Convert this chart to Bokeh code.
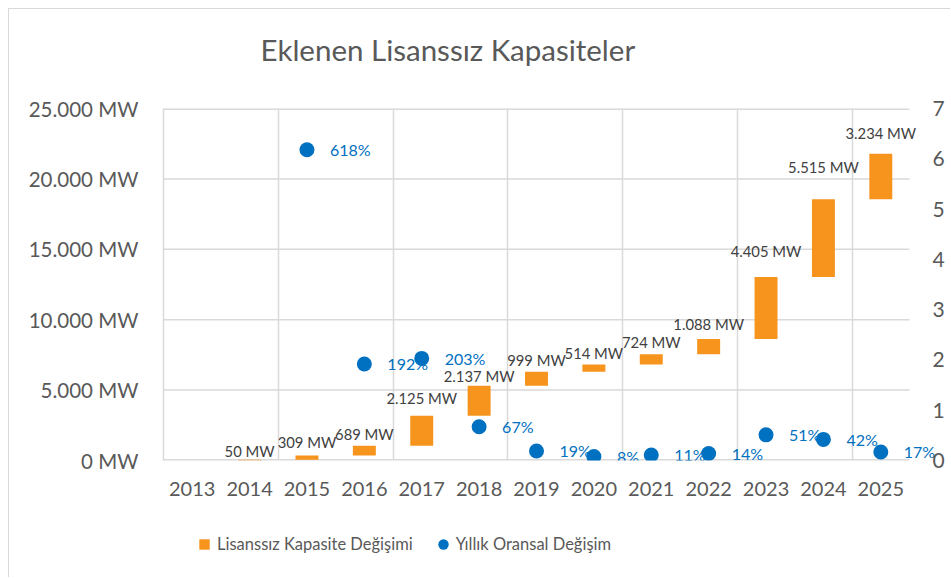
import numpy as np
from bokeh.plotting import figure
from bokeh.layouts import column
from bokeh.models import (ColumnDataSource, Range1d, LinearAxis, FixedTicker,
                          Legend, LegendItem)
from bokeh.core.properties import value
from bokeh.embed import file_html
from bokeh.resources import INLINE

# ---- data ----
years = ["2013", "2014", "2015", "2016", "2017", "2018", "2019",
         "2020", "2021", "2022", "2023", "2024", "2025"]
added_mw = [0, 50, 309, 689, 2125, 2137, 999, 514, 724, 1088, 4405, 5515, 3234]
yearly_pct = [None, None, 618, 192, 203, 67, 19, 8, 11, 14, 51, 42, 17]
mw_ticks = [0, 5000, 10000, 15000, 20000, 25000]
ratio_ticks = [0, 1, 2, 3, 4, 5, 6, 7]
title_text = "Eklenen Lisanssız Kapasiteler"
series_names = ["Lisanssız Kapasite Değişimi", "Yıllık Oransal Değişim"]

# label nudges (screen px above bar top), layout only
label_nudge = [0, 9, 13, 12, 18, 10, 12, 11, 12, 15, 26, 32, 21]

FONT = "Lato"
GRAY = "#595959"
GRID = "#D9D9D9"
ORANGE = "#F7941D"
BLUE = "#0070C0"

# layout (px)
W = 941
LEFT = 154
PLOT_W = 746          # width of the gridded plot area
FRAME_W = 782         # drawing frame (extra room on the right for labels)
FRAME_H = 352


def mw_fmt(v):
    return f"{v:,} MW".replace(",", ".")


n = len(years)
xs = np.arange(n) + 0.5
top = np.cumsum(added_mw)
base = top - np.array(added_mw)

bar_idx = [i for i in range(n) if added_mw[i] > 0]
bars = ColumnDataSource(dict(
    x=[xs[i] for i in bar_idx],
    base=[int(base[i]) for i in bar_idx],
    top=[int(top[i]) for i in bar_idx],
    label=[mw_fmt(added_mw[i]) for i in bar_idx],
    dy=[-label_nudge[i] for i in bar_idx],
))

pct_idx = [i for i in range(n) if yearly_pct[i] is not None]
dots = ColumnDataSource(dict(
    x=[xs[i] for i in pct_idx],
    ratio=[yearly_pct[i] / 100 for i in pct_idx],
    label=[f"{yearly_pct[i]}%" for i in pct_idx],
))

grid_src = ColumnDataSource(dict(
    y=mw_ticks,
    x0=[0] * len(mw_ticks),
    x1=[n] * len(mw_ticks),
    w=[3 if t in (min(mw_ticks), max(mw_ticks)) else 1.5 for t in mw_ticks],
))

# ---- title strip ----
tf = figure(width=W, height=86, x_range=Range1d(0, 1), y_range=Range1d(0, 1),
            output_backend="svg", toolbar_location=None,
            x_axis_location=None, y_axis_location=None,
            min_border_left=LEFT, min_border_right=0,
            min_border_top=62, min_border_bottom=0)
tf.grid.visible = False
tf.outline_line_color = None
tf.border_fill_color = "white"
tf.background_fill_color = "white"
tf.title.text = title_text
tf.title.align = "left"
tf.title.offset = 97
tf.title.standoff = 10
tf.title.text_font = FONT
tf.title.text_font_size = "29.5px"
tf.title.text_font_style = "normal"
tf.title.text_color = GRAY

# ---- main chart ----
x_end = n * FRAME_W / PLOT_W
p = figure(width=W, height=13 + FRAME_H + 45,
           x_range=Range1d(0, x_end), y_range=Range1d(0, 25000),
           output_backend="svg", toolbar_location=None,
           min_border_left=LEFT, min_border_right=W - LEFT - FRAME_W,
           min_border_top=13, min_border_bottom=45)
p.outline_line_color = None
p.background_fill_color = "white"
p.border_fill_color = "white"
p.extra_y_ranges = {"ratio": Range1d(0, 7)}

p.xaxis.ticker = FixedTicker(ticks=list(xs))
p.xaxis.major_label_overrides = {float(x): y for x, y in zip(xs, years)}
p.yaxis.ticker = FixedTicker(ticks=mw_ticks)
p.yaxis.major_label_overrides = {t: mw_fmt(t) for t in mw_ticks}

for ax in (p.xaxis[0], p.yaxis[0]):
    ax.axis_line_color = None
    ax.major_tick_line_color = None
    ax.minor_tick_line_color = None
    ax.major_label_text_font = FONT
    ax.major_label_text_color = GRAY
p.yaxis.axis_line_color = GRID
p.yaxis.axis_line_width = 1.5
p.xaxis.major_label_text_font_size = "20px"
p.xaxis.major_label_standoff = 15
p.yaxis.major_label_text_font_size = "20.5px"
p.yaxis.major_label_standoff = 19

rax = LinearAxis(y_range_name="ratio", ticker=FixedTicker(ticks=ratio_ticks))
rax.axis_line_color = None
rax.major_tick_line_color = None
rax.minor_tick_line_color = None
rax.major_label_text_font = FONT
rax.major_label_text_color = GRAY
rax.major_label_text_font_size = "21px"
rax.major_label_standoff = -19
p.add_layout(rax, "right")

# grids: vertical every 2 categories, horizontal limited to the category span
p.xgrid.ticker = FixedTicker(ticks=list(range(2, n, 2)))
p.xgrid.grid_line_color = GRID
p.xgrid.grid_line_width = 1.5
p.ygrid.visible = False
p.segment(x0="x0", x1="x1", y0="y", y1="y", source=grid_src,
          line_color=GRID, line_width="w", level="underlay")

# glyphs
p.vbar(x="x", bottom="base", top="top", width=0.4, source=bars,
       fill_color=ORANGE, line_color=None)
p.text(x="x", y="top", text="label", y_offset="dy", source=bars,
       text_align="center", text_baseline="middle",
       text_font=value(FONT), text_font_size="14.8px", text_color="#404040")

p.scatter(x="x", y="ratio", source=dots, y_range_name="ratio",
          size=15, fill_color=BLUE, line_color=None)
p.text(x="x", y="ratio", text="label", source=dots, y_range_name="ratio",
       x_offset=23, text_align="left", text_baseline="middle",
       text_font=value(FONT), text_font_size="16px", text_color=BLUE)

# ---- legend strip ----
lf = figure(width=W, height=72, x_range=Range1d(0, 1), y_range=Range1d(0, 1),
            output_backend="svg", toolbar_location=None,
            x_axis_location=None, y_axis_location=None, min_border=0)
lf.grid.visible = False
lf.outline_line_color = None
lf.background_fill_color = "white"
lf.border_fill_color = "white"
leg_sq = lf.scatter(x=[np.nan], y=[np.nan], marker="square",
                    fill_color=ORANGE, line_color=None)
leg_ci = lf.scatter(x=[np.nan], y=[np.nan], marker="circle",
                    fill_color=BLUE, line_color=None)
legend = Legend(items=[
    LegendItem(label=series_names[0], renderers=[leg_sq]),
    LegendItem(label=series_names[1], renderers=[leg_ci]),
], orientation="horizontal", location=(28, 20))
legend.glyph_width = 26
legend.glyph_height = 26
legend.label_standoff = -4
legend.spacing = 17
legend.padding = 0
legend.margin = 0
legend.border_line_color = None
legend.background_fill_alpha = 0
legend.label_text_font = FONT
legend.label_text_font_size = "16.5px"
legend.label_text_color = GRAY
legend.label_height = 26
lf.add_layout(legend, "center")

layout = column(tf, p, lf, spacing=0)
layout.styles = {"margin-left": "8px", "margin-top": "8px",
                 "border-left": f"1px solid {GRID}", "border-top": f"1px solid {GRID}"}

open("out.html", "w").write(file_html(layout, INLINE))
